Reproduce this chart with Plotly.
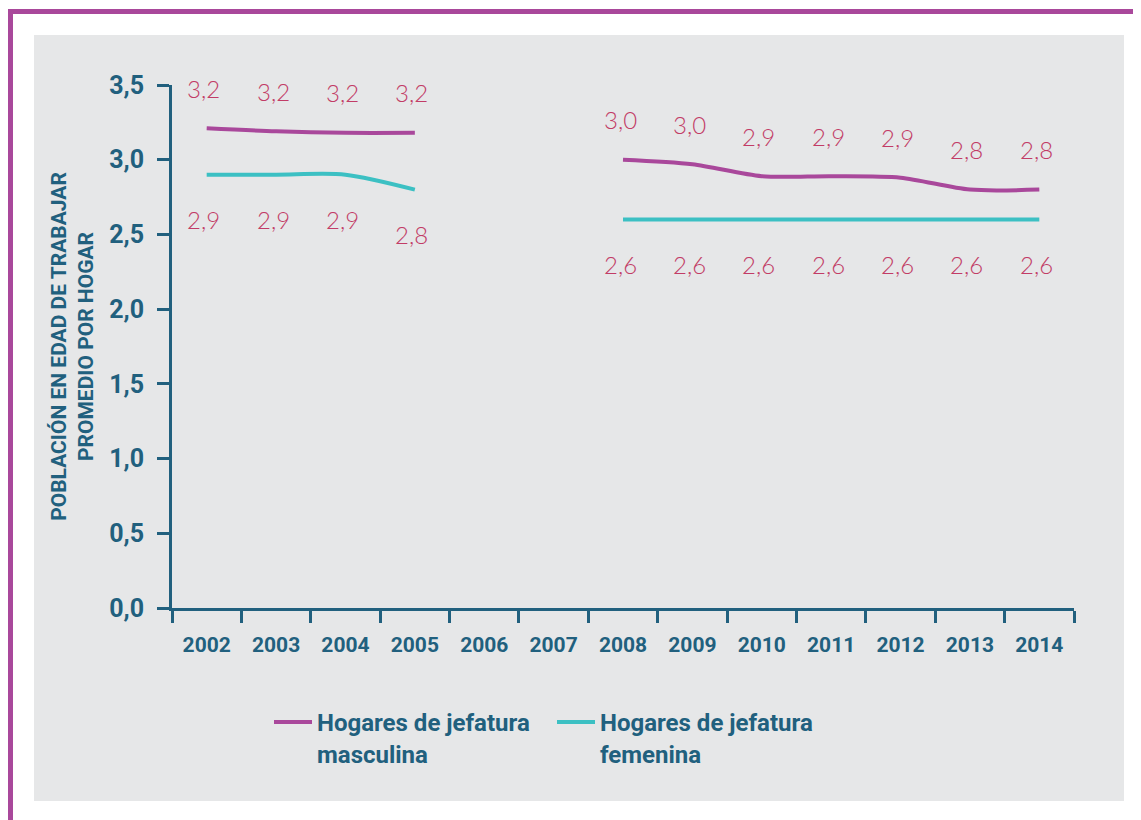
import plotly.graph_objects as go

years = ["2002", "2003", "2004", "2005", "2006", "2007", "2008",
         "2009", "2010", "2011", "2012", "2013", "2014"]
masculina = [3.21, 3.19, 3.18, 3.18, None, None, 3.00, 2.97, 2.89, 2.89, 2.88, 2.80, 2.80]
femenina = [2.90, 2.90, 2.90, 2.80, None, None, 2.60, 2.60, 2.60, 2.60, 2.60, 2.60, 2.60]

name_m = "Hogares de jefatura<br>masculina"
name_f = "Hogares de jefatura<br>femenina"
y_title = "POBLACIÓN EN EDAD DE TRABAJAR<br>PROMEDIO POR HOGAR"

AXIS = "#21607e"
PURPLE = "#a9489b"
CYAN = "#3cc0c3"
LABEL = "#c23c66"
BG = "#e6e7e8"
COND = "Roboto, Liberation Sans Narrow, sans-serif"
LIGHT = "Lato, Open Sans, sans-serif"

def fmt(v):
    return f"{v:.1f}".replace(".", ",")

fig = go.Figure()
fig.add_trace(go.Scatter(x=years, y=masculina, mode="lines", name=name_m,
                         line=dict(color=PURPLE, width=4, shape="spline", smoothing=0.8),
                         connectgaps=False, legend="legend"))
fig.add_trace(go.Scatter(x=years, y=femenina, mode="lines", name=name_f,
                         line=dict(color=CYAN, width=4, shape="spline", smoothing=0.8),
                         connectgaps=False, legend="legend2"))

annotations = []
for i, v in enumerate(masculina):
    if v is not None:
        annotations.append(dict(x=i, y=v, xref="x", yref="y", text=fmt(v), showarrow=False,
                                yshift=40, xshift=-3,
                                font=dict(family=LIGHT, size=24, color=LABEL, weight=300)))
for i, v in enumerate(femenina):
    if v is not None:
        annotations.append(dict(x=i, y=v, xref="x", yref="y", text=fmt(v), showarrow=False,
                                yshift=-45, xshift=-3,
                                font=dict(family=LIGHT, size=24, color=LABEL, weight=300)))

shapes = [
    dict(type="rect", xref="paper", yref="paper", layer="below",
         x0=(34 - 172) / 902, x1=(1124 - 172) / 902,
         y0=(608 - 801) / 523, y1=(608 - 35) / 523,
         fillcolor=BG, line=dict(width=0)),
    dict(type="rect", xref="paper", yref="paper", layer="below",
         x0=(8 - 172) / 902, x1=(1145 - 172) / 902,
         y0=(608 - 14) / 523, y1=(608 - 9) / 523,
         fillcolor=PURPLE, line=dict(width=0)),
    dict(type="rect", xref="paper", yref="paper", layer="below",
         x0=(8 - 172) / 902, x1=(13 - 172) / 902,
         y0=(608 - 825) / 523, y1=(608 - 9) / 523,
         fillcolor=PURPLE, line=dict(width=0)),
]

legend_common = dict(orientation="v", xanchor="left", yanchor="top", valign="top",
                     bgcolor="rgba(0,0,0,0)", itemwidth=38,
                     font=dict(family=COND, size=24, color=AXIS, weight="bold"))

fig.update_layout(
    width=1133, height=812,
    margin=dict(l=164, r=67, t=77, b=212),
    paper_bgcolor="white",
    plot_bgcolor="rgba(0,0,0,0)",
    separators=",.",
    showlegend=True,
    legend=dict(x=(269 - 172) / 902, y=(608 - 700) / 523, **legend_common),
    legend2=dict(x=(552 - 172) / 902, y=(608 - 700) / 523, **legend_common),
    xaxis=dict(type="category", categoryorder="array", categoryarray=years,
               range=[-0.5, 12.5], tickson="boundaries", tickangle=0,
               showline=True, linecolor=AXIS, linewidth=3,
               ticks="outside", ticklen=12, tickwidth=3, tickcolor=AXIS,
               ticklabelstandoff=16,
               showgrid=False, zeroline=False,
               tickfont=dict(family=COND, size=21, color=AXIS, weight="bold")),
    yaxis=dict(range=[0, 3.5], dtick=0.5, tick0=0, tickformat=".1f",
               showline=True, linecolor=AXIS, linewidth=3,
               ticks="outside", ticklen=12, tickwidth=3, tickcolor=AXIS,
               ticklabelstandoff=8,
               showgrid=False, zeroline=False,
               tickfont=dict(family=COND, size=25, color=AXIS, weight="bold"),
               title=dict(text=y_title, standoff=10,
                          font=dict(family=COND, size=21, color=AXIS, weight="bold"))),
    annotations=annotations,
    shapes=shapes,
)

fig.write_html("out.html")
